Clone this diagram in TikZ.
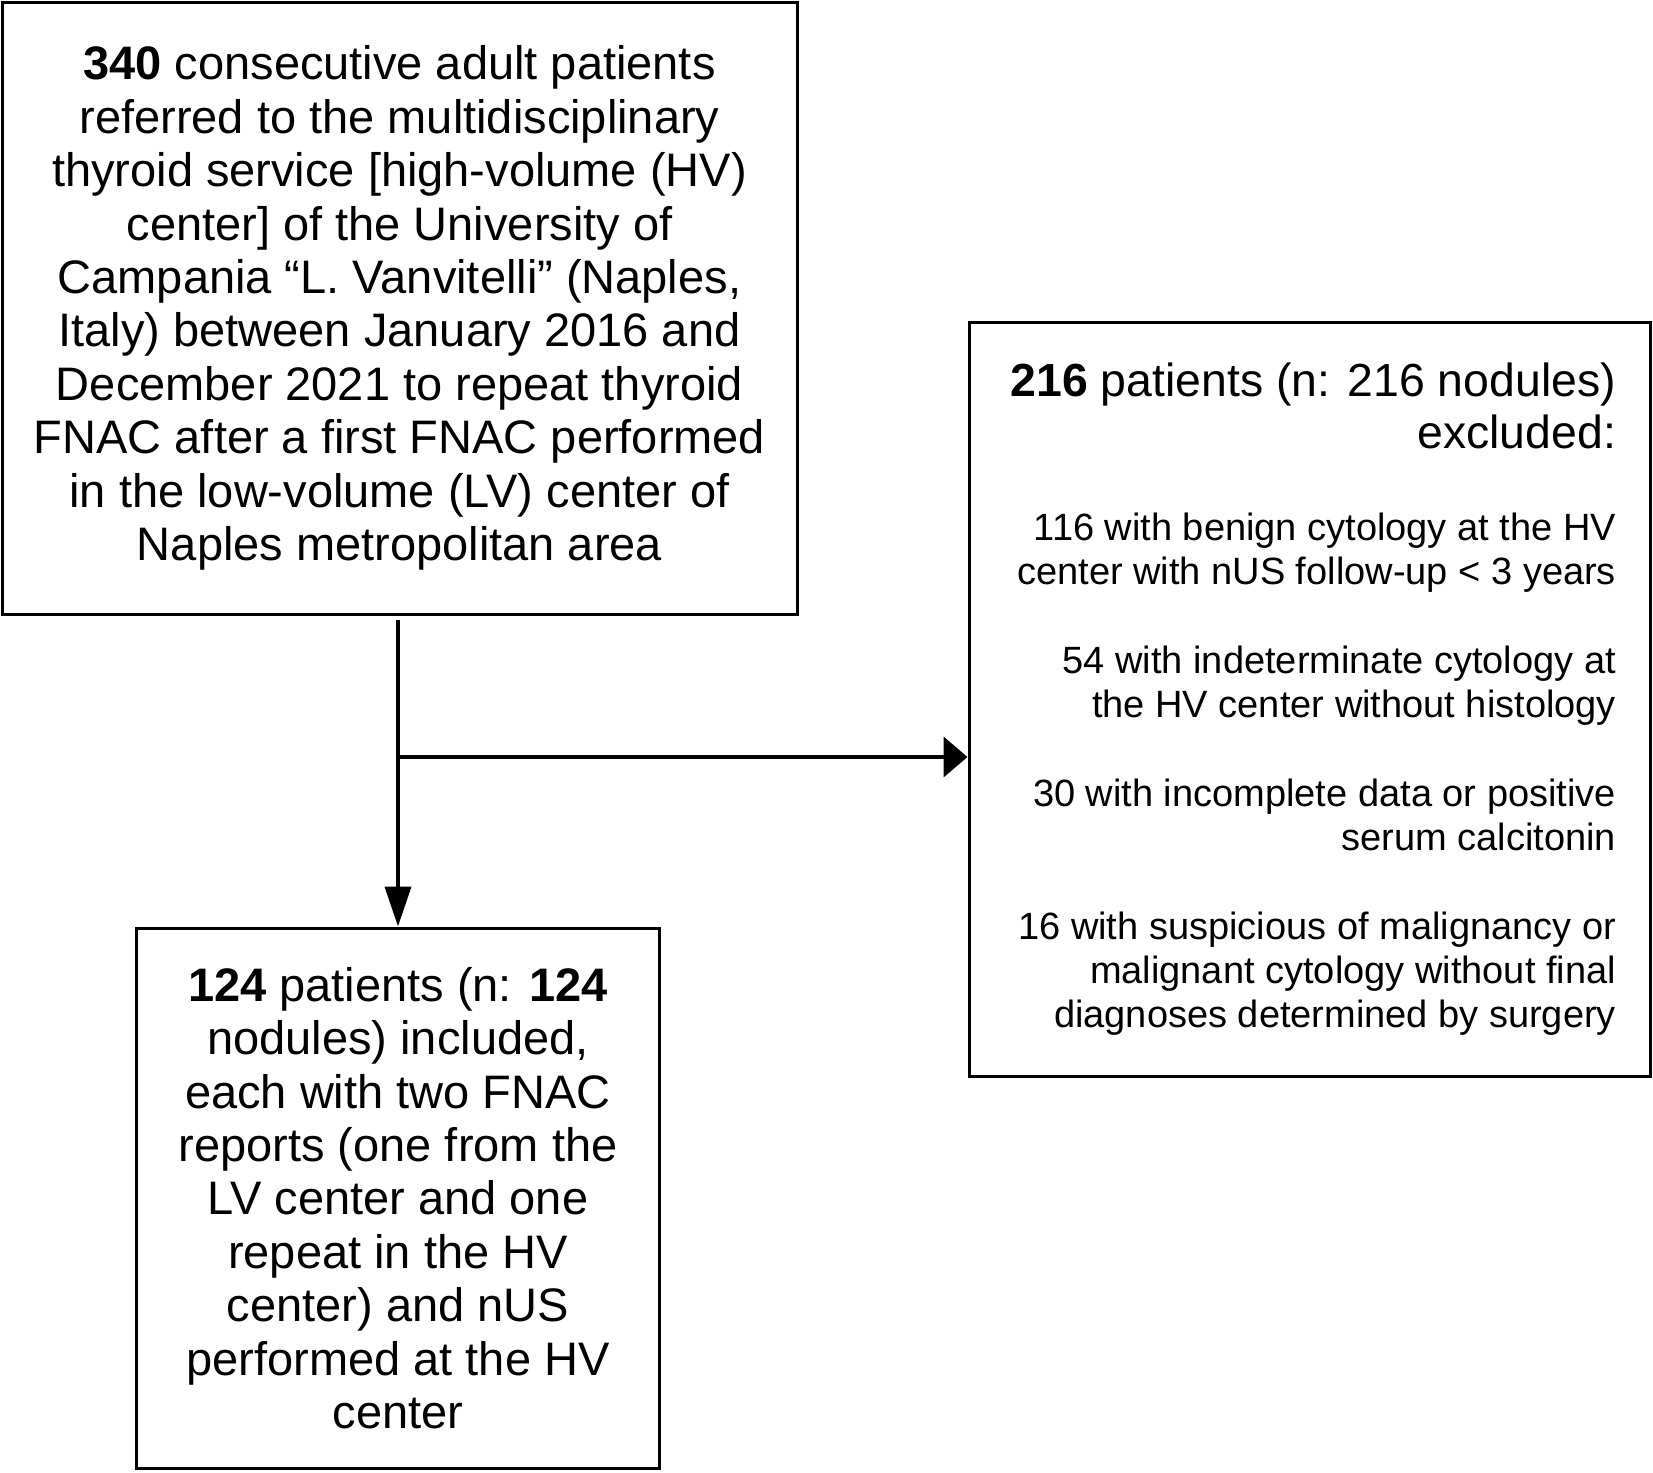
\documentclass[tikz,border=0pt]{standalone}
\usepackage{fontspec}
\setmainfont{Liberation Sans}
\usetikzlibrary{arrows.meta}
\setlength{\parindent}{0pt}
\newcommand{\bigtxt}{\fontsize{23.5pt}{26.7pt}\selectfont}
\newcommand{\headtxt}{\fontsize{23.2pt}{26.4pt}\selectfont}
\newcommand{\smalltxt}{\fontsize{19pt}{22.1pt}\selectfont}

\begin{document}
\begin{tikzpicture}[x=0.5pt,y=-0.5pt,font=\bigtxt,
  box/.style={draw,line width=1.5pt,align=center,inner sep=0pt},
  flow/.style={line width=2pt}]
  \useasboundingbox (0,0) rectangle (1653,1472);
  % screened patients
  \node[box,minimum width=397.5pt,minimum height=306pt] (enrol) at (399.5,308)
    {\textbf{340} consecutive adult patients\\
     referred to the multidisciplinary\\
     thyroid service [high-volume (HV)\\
     center] of the University of\\
     Campania “L. Vanvitelli” (Naples,\\
     Italy) between January 2016 and\\
     December 2021 to repeat thyroid\\
     FNAC after a first FNAC performed\\
     in the low-volume (LV) center of\\
     Naples metropolitan area};
  % excluded patients
  \node[box,align=flush right,text width=306.5pt,inner xsep=17pt,minimum height=377pt] (excl) at (1309.5,699)
    {{\headtxt \textbf{216} patients (n: 216 nodules)\\excluded:\par}
     \vspace{23.8pt}
     {\smalltxt 116 with benign cytology at the HV\\
      center with nUS follow-up < 3 years\\[22.2pt]
      54 with indeterminate cytology at\\
      the HV center without histology\\[22.2pt]
      30 with incomplete data or positive\\
      serum calcitonin\\[22.2pt]
      16 with suspicious of malignancy or\\
      malignant cytology without final\\
      diagnoses determined by surgery\par}};
  % included patients
  \node[box,minimum width=261.5pt,minimum height=270pt] (incl) at (398,1198)
    {\textbf{124} patients (n: \textbf{124}\\
     nodules) included,\\
     each with two FNAC\\
     reports (one from the\\
     LV center and one\\
     repeat in the HV\\
     center) and nUS\\
     performed at the HV\\
     center};
  \coordinate (split) at (398,757);
  \draw[flow,-{Triangle[length=20pt,width=13pt]},shorten <=2pt] (incl.north |- enrol.south) -- (incl.north);
  \draw[flow,-{Triangle[length=12pt,width=20pt]}] (split) -- (split -| excl.west);
\end{tikzpicture}
\end{document}
